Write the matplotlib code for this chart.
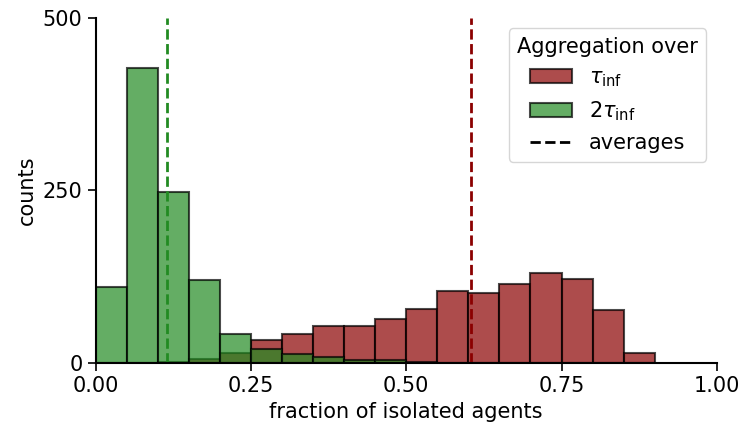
import numpy as np
import matplotlib.pyplot as plt

# histogram bins (width 0.05)
bin_edges = np.arange(0, 0.95, 0.05)

# counts per bin, aggregation over tau_inf
counts_tau = [0, 0, 1, 5, 14, 33, 42, 54, 53, 64, 78, 104, 102, 115, 130, 122, 77, 15]
# counts per bin, aggregation over 2*tau_inf
counts_2tau = [110, 428, 248, 120, 42, 20, 13, 8, 4, 4, 1, 0, 0, 0, 0, 0, 0, 0]

# means of the two distributions
mean_tau = 0.604
mean_2tau = 0.114

plt.rcParams['font.family'] = 'DejaVu Sans'
plt.rcParams['font.size'] = 15

fig = plt.figure(figsize=(7.42, 4.28), dpi=100)
ax = fig.add_axes([0.129, 0.152, 0.837, 0.806])

width = bin_edges[1] - bin_edges[0]
left = bin_edges[:-1]

h_tau = ax.bar(left, counts_tau, width=width, align='edge', color='darkred',
               alpha=0.7, edgecolor='black', linewidth=1.5, label=r'$\tau_{\rm inf}$')
h_2tau = ax.bar(left, counts_2tau, width=width, align='edge', color='forestgreen',
                alpha=0.7, edgecolor='black', linewidth=1.5, label=r'$2\tau_{\rm inf}$')

ax.axvline(mean_tau, color='darkred', ls='--', lw=2)
ax.axvline(mean_2tau, color='forestgreen', ls='--', lw=2)
h_avg, = ax.plot([], [], color='black', ls='--', lw=2, label='averages')

ax.set_xlim(0, 1)
ax.set_ylim(0, 500)
ax.set_xticks([0, 0.25, 0.5, 0.75, 1.0])
ax.set_xticklabels(['0.00', '0.25', '0.50', '0.75', '1.00'])
ax.set_yticks([0, 250, 500])
ax.tick_params(length=6, width=1.2)
ax.set_xlabel('fraction of isolated agents')
ax.set_ylabel('counts')

for side in ['top', 'right']:
    ax.spines[side].set_visible(False)
for side in ['left', 'bottom']:
    ax.spines[side].set_linewidth(1.5)

ax.legend(handles=[h_tau, h_2tau, h_avg], title='Aggregation over',
          loc='upper right', fontsize=15, title_fontsize=15, handlelength=2.0)

fig.savefig('out.png', dpi=100)
